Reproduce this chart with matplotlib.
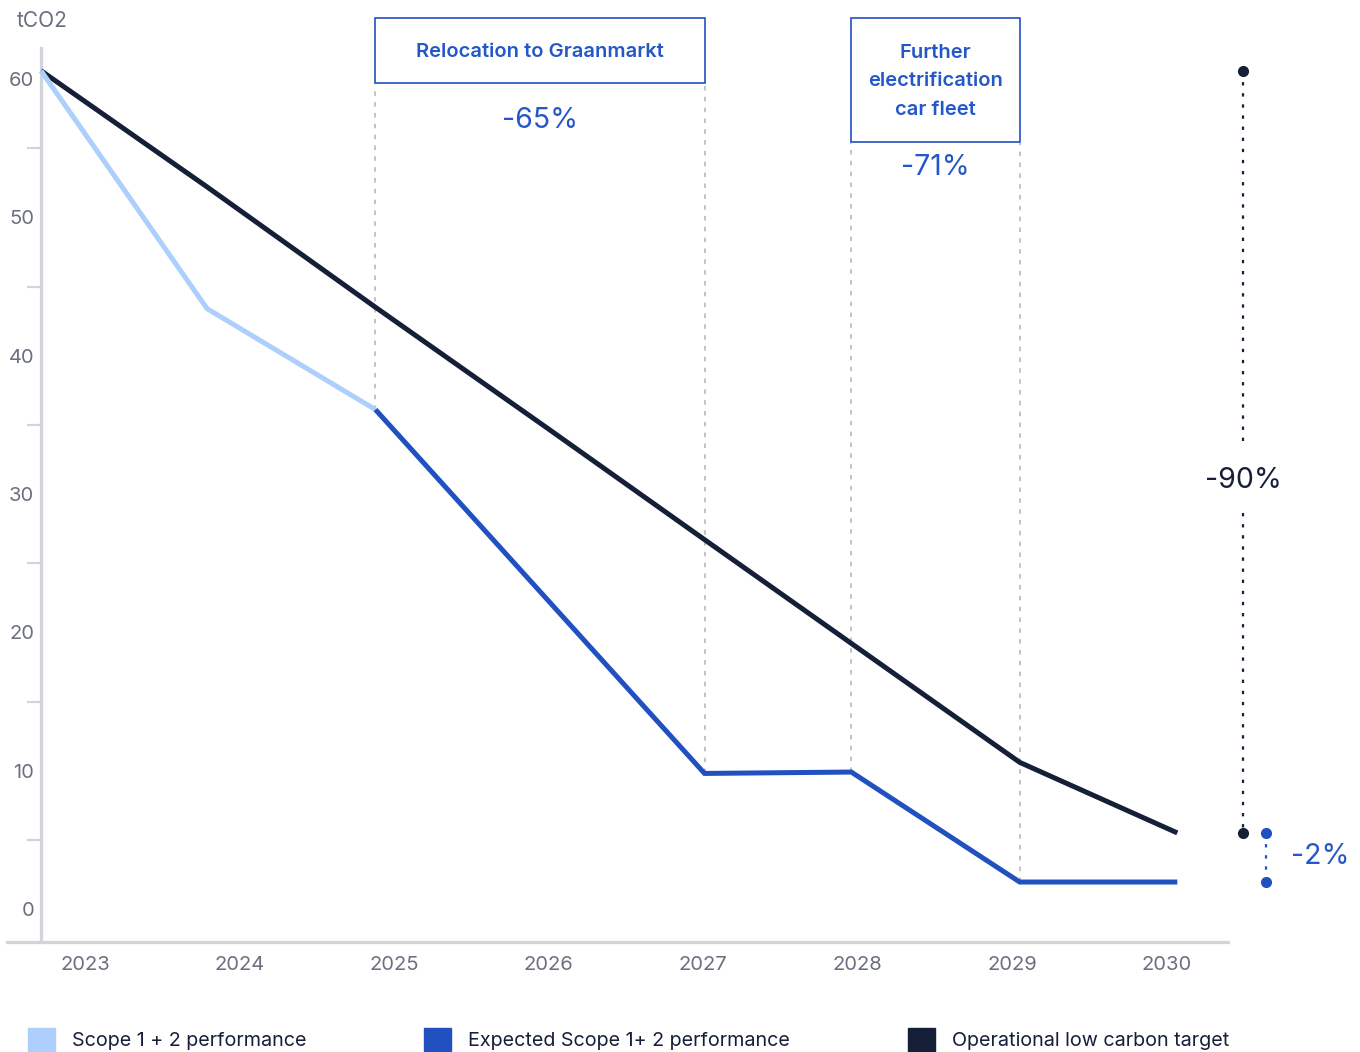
import matplotlib
matplotlib.use("Agg")
import matplotlib.pyplot as plt
from matplotlib.patches import Rectangle

plt.rcParams['font.family'] = ['Inter', 'DejaVu Sans']

# --- data -------------------------------------------------------------
year_labels = ["2023", "2024", "2025", "2026", "2027", "2028", "2029", "2030"]
year_ticks = [2023, 2024, 2025, 2026, 2027, 2028, 2029, 2030]

# measured emissions (tCO2)
actual_x = [2022.715, 2023.79, 2024.88]
actual_y = [60.6, 43.4, 36.1]

# expected trajectory
expected_x = [2024.88, 2027.01, 2027.96, 2029.05, 2030.07]
expected_y = [36.1, 9.8, 9.9, 1.95, 1.95]

# operational low carbon target
target_x = [2022.715, 2023.79, 2024.88, 2026.0, 2027.01, 2027.96, 2029.05, 2030.07]
target_y = [60.6, 52.2, 43.5, 34.7, 26.7, 19.2, 10.6, 5.5]

y_ticks = [0, 10, 20, 30, 40, 50, 60]
y_minor = [5, 15, 25, 35, 45, 55]

milestones = [
    {"label": "Relocation to Graanmarkt", "x0": 2024.88, "x1": 2027.01,
     "top": 64.4, "bottom": 59.7, "pct": "-65%", "pct_y": 57.0},
    {"label": "Further\nelectrification\ncar fleet", "x0": 2027.96, "x1": 2029.05,
     "top": 64.4, "bottom": 55.45, "pct": "-71%", "pct_y": 53.6},
]
milestone_bases = [36.1, 9.8, 9.9, 1.95]

legend_labels = ["Scope 1 + 2 performance", "Expected Scope 1+ 2 performance",
                 "Operational low carbon target"]

# --- style ------------------------------------------------------------
LIGHT = "#ADCFFB"
BLUE = "#2150C0"
NAVY = "#161F38"
TXT_BLUE = "#2457C8"
GREY_TXT = "#6B6F80"
SPINE = "#D3D4DA"
DOT_GREY = "#BDBEC4"

W, H = 1360, 1052
fig = plt.figure(figsize=(W / 100, H / 100), dpi=100)
ax = fig.add_axes([7 / W, (H - 942) / H, (1228 - 7) / W, (942 - 48) / H])

px_per_year = 154.5
x_left = 2023 + (7 - 85) / px_per_year
x_right = 2023 + (1228 - 85) / px_per_year
ax.set_xlim(x_left, x_right)
px_per_unit = 830 / 60
ax.set_ylim((909 - 942) / px_per_unit, (909 - 48) / px_per_unit)

for s in ["top", "right"]:
    ax.spines[s].set_visible(False)
ax.spines["left"].set_position(("data", 2022.715))
for s in ["left", "bottom"]:
    ax.spines[s].set_color(SPINE)
    ax.spines[s].set_linewidth(2.3)

ax.set_yticks(y_ticks)
ax.set_yticks(y_minor, minor=True)
ax.tick_params(axis="y", which="major", length=0, pad=5, labelsize=14.5,
               labelcolor=GREY_TXT)
ax.tick_params(axis="y", which="minor", length=10, width=1.6, color=SPINE)
ax.set_xticks(year_ticks)
ax.set_xticklabels(year_labels)
ax.tick_params(axis="x", length=0, pad=10, labelsize=14.5, labelcolor=GREY_TXT)

# milestone guide lines
guide_x = [2024.88, 2027.01, 2027.96, 2029.05]
guide_top = [59.6, 59.6, 55.4, 55.4]
for gx, gb, gt in zip(guide_x, milestone_bases, guide_top):
    ax.plot([gx, gx], [gb, gt], color=DOT_GREY, lw=1.3, ls=(0, (2.5, 3.5)),
            zorder=1, clip_on=False)

# series
ax.plot(target_x, target_y, color=NAVY, lw=3.6, solid_capstyle="butt",
        solid_joinstyle="miter", zorder=3)
ax.plot(actual_x, actual_y, color=LIGHT, lw=3.6, solid_capstyle="butt",
        solid_joinstyle="miter", zorder=4)
ax.plot(expected_x, expected_y, color=BLUE, lw=3.6, solid_capstyle="butt",
        solid_joinstyle="miter", zorder=4)

# milestone boxes
for m in milestones:
    ax.add_patch(Rectangle((m["x0"], m["bottom"]), m["x1"] - m["x0"],
                           m["top"] - m["bottom"], fill=False, ec=BLUE,
                           lw=1.2, clip_on=False, zorder=5))
    cx = (m["x0"] + m["x1"]) / 2
    ax.text(cx, (m["top"] + m["bottom"]) / 2 - 0.1, m["label"], ha="center",
            va="center", color=TXT_BLUE, fontsize=14.5, fontweight="semibold",
            linespacing=1.72, clip_on=False)
    ax.text(cx, m["pct_y"], m["pct"], ha="center", va="center",
            color=TXT_BLUE, fontsize=20.5)

# total reduction markers on the right
x_total = 2023 + (1243 - 85) / px_per_year
x_gap = 2023 + (1266 - 85) / px_per_year
label_y = 31.0
ax.plot([x_total, x_total], [target_y[0], label_y + 2.4], color=NAVY, lw=1.6,
        ls=(0, (1.5, 3.5)), clip_on=False)
ax.plot([x_total, x_total], [label_y - 2.4, target_y[-1]], color=NAVY, lw=1.6,
        ls=(0, (1.5, 3.5)), clip_on=False)
ax.plot([x_total, x_total], [target_y[0], target_y[-1]], "o", color=NAVY,
        ms=7, clip_on=False, zorder=6)
ax.text(x_total, label_y, "-90%", ha="center", va="center", color=NAVY,
        fontsize=20.5)

ax.plot([x_gap, x_gap], [target_y[-1], expected_y[-1]], color=BLUE, lw=1.6,
        ls=(0, (1.5, 3.5)), clip_on=False)
ax.plot([x_gap, x_gap], [target_y[-1], expected_y[-1]], "o", color=BLUE,
        ms=7, clip_on=False, zorder=6)
ax.text(2023 + (1320 - 85) / px_per_year, 3.8, "-2%", ha="center",
        va="center", color=TXT_BLUE, fontsize=20.5)

# unit label
fig.text(42 / W, 1 - 21 / H, "tCO2", ha="center", va="center",
         color=GREY_TXT, fontsize=15)

# legend
legend_colors = [LIGHT, BLUE, NAVY]
legend_x = [28, 424, 908]
for lx, col, lab in zip(legend_x, legend_colors, legend_labels):
    fig.patches.append(Rectangle((lx / W, 1 - 1055 / H), 27 / W, 27 / H,
                                 transform=fig.transFigure, color=col,
                                 figure=fig))
    fig.text((lx + 44) / W, 1 - 1041 / H, lab, ha="left", va="center",
             color=NAVY, fontsize=14.2)

fig.savefig("out.png", dpi=100)
